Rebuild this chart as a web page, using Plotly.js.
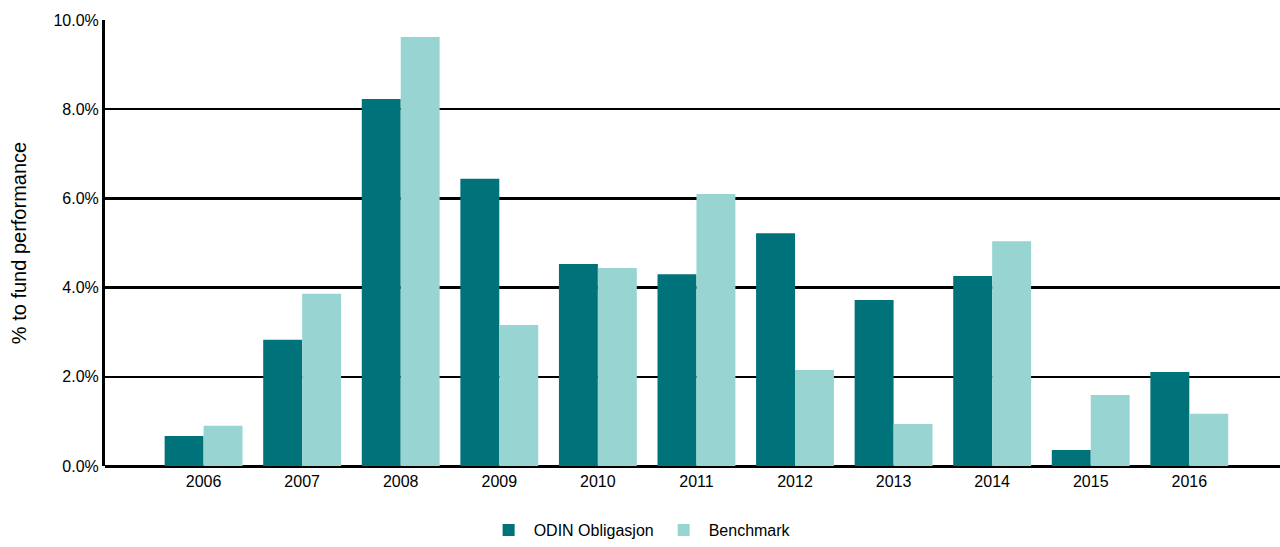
<!DOCTYPE html>
<html><head><meta charset="utf-8">
<script src="https://cdn.plot.ly/plotly-3.0.1.min.js"></script>
<style>html,body{margin:0;padding:0;background:#fff;}#chart{width:1280px;height:547px;}</style>
</head><body><div id="chart"></div>
<script>
const years = ['2006','2007','2008','2009','2010','2011','2012','2013','2014','2015','2016'];
const odin = [0.67, 2.83, 8.23, 6.44, 4.53, 4.30, 5.22, 3.72, 4.26, 0.36, 2.11];
const benchmark = [0.90, 3.86, 9.62, 3.16, 4.44, 6.10, 2.15, 0.94, 5.04, 1.59, 1.17];
const yTicks = [0, 2, 4, 6, 8, 10];
const yTickLabels = ['0.0%', '2.0%', '4.0%', '6.0%', '8.0%', '10.0%'];

const data = [
  {type:'bar', name:'ODIN Obligasjon', x: years, y: odin, marker:{color:'#00737A'}},
  {type:'bar', name:'Benchmark', x: years, y: benchmark, marker:{color:'#98D5D2'}}
];
const layout = {
  width:1280, height:547,
  margin:{l:105, r:0, t:20, b:81},
  paper_bgcolor:'#fff', plot_bgcolor:'#fff',
  font:{family:'Liberation Sans, Arial, sans-serif', color:'#000', size:16},
  barmode:'group', bargap:0.21, bargroupgap:0,
  xaxis:{type:'category', range:[-1, 10.92], showgrid:false, showline:false, zeroline:false,
         ticks:'', tickfont:{size:16}, ticklabelstandoff:4, automargin:false},
  yaxis:{range:[0,10], tickvals:yTicks, ticktext:yTickLabels, showgrid:true, gridcolor:'#000', gridwidth:2.5,
         zeroline:true, zerolinecolor:'#000', zerolinewidth:3, showline:true, linecolor:'#000', linewidth:3,
         ticks:'', tickfont:{size:16}, automargin:false,
         title:{text:'% to fund performance', font:{size:20}, standoff:22}},
  showlegend:true,
  legend:{orientation:'h', x:0.455, xanchor:'center', y:-0.1816, yanchor:'bottom', font:{size:16}, traceorder:'normal', itemwidth:40}
};
Plotly.newPlot('chart', data, layout, {displayModeBar:false, staticPlot:true});
</script></body></html>
